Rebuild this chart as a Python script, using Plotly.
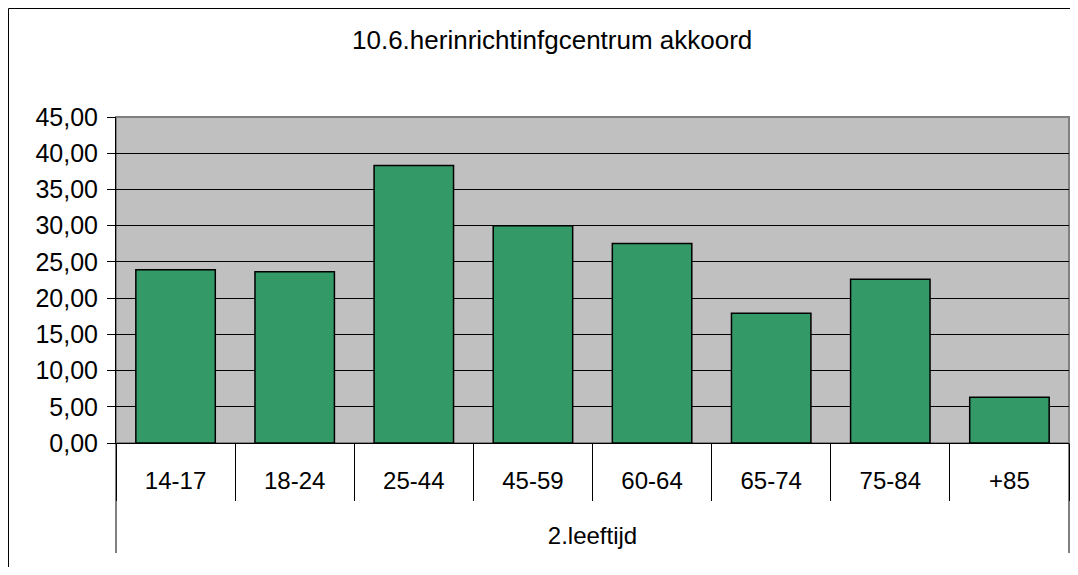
import plotly.graph_objects as go

categories = ["14-17", "18-24", "25-44", "45-59", "60-64", "65-74", "75-84", "+85"]
group_label = "2.leeftijd"
values = [23.9, 23.65, 38.3, 30.0, 27.55, 17.9, 22.6, 6.3]
title_text = "10.6.herinrichtinfgcentrum akkoord"
y_ticks = [0, 5, 10, 15, 20, 25, 30, 35, 40, 45]

# page body adds an 8px offset; work in figure coordinates
OFF = 8
W, H = 1078 - 2 * OFF, 575 - 2 * OFF
L, R, T, B = 116 - OFF, W - 1, 117 - OFF, 443 - OFF
PW, PH = R - L, B - T

fig = go.Figure()
fig.add_trace(go.Bar(
    x=categories,
    y=values,
    marker=dict(color="#339966", line=dict(color="#000000", width=1.5)),
    width=0.667,
))

font = dict(family="Liberation Sans, Arial, sans-serif", size=24, color="#000000")

fig.update_layout(
    width=W, height=H,
    margin=dict(l=L, r=W - R, t=T, b=H - B, pad=0),
    paper_bgcolor="#FFFFFF",
    plot_bgcolor="#C0C0C0",
    separators=",.",
    showlegend=False,
    font=font,
    annotations=[dict(
        text=title_text, xref="paper", yref="paper",
        x=(551.5 - OFF - L) / PW, y=(B - (40 - OFF)) / PH,
        xanchor="center", yanchor="middle", showarrow=False,
        font=dict(family="Liberation Sans, Arial, sans-serif", size=26, color="#000000"),
    )],
    shapes=[
        # chart border (top and left edges visible)
        dict(type="line", xref="paper", yref="paper",
             x0=(0.5 - L) / PW, x1=(W - L) / PW,
             y0=(B - 0.5) / PH, y1=(B - 0.5) / PH,
             line=dict(color="#000000", width=1)),
        dict(type="line", xref="paper", yref="paper",
             x0=(0.5 - L) / PW, x1=(0.5 - L) / PW,
             y0=(B - 0.5) / PH, y1=(B - H) / PH,
             line=dict(color="#000000", width=1)),
        # plot area border
        dict(type="rect", xref="paper", yref="paper", x0=0, x1=1, y0=0, y1=1,
             line=dict(color="#808080", width=2), fillcolor="rgba(0,0,0,0)", layer="below"),
        # outer group separators
        dict(type="line", xref="paper", yref="paper", x0=0, x1=0, y0=0, y1=-110 / PH,
             line=dict(color="#000000", width=1)),
        dict(type="line", xref="paper", yref="paper", x0=1, x1=1, y0=0, y1=-110 / PH,
             line=dict(color="#000000", width=1)),
    ],
)

fig.update_yaxes(
    range=[0, 45], tickvals=y_ticks, tickformat=".2f",
    showgrid=True, gridcolor="#000000", gridwidth=1,
    ticks="outside", ticklen=8, tickcolor="#000000", tickwidth=1,
    showline=True, linecolor="#000000", linewidth=1,
    zeroline=False, tickfont=dict(family="Liberation Sans, Arial, sans-serif", size=25, color="#000000"),
    ticklabelstandoff=4,
)
fig.update_xaxes(
    type="category",
    ticks="outside", ticklen=57, tickcolor="#000000", tickwidth=1,
    tickson="boundaries",
    showline=True, linecolor="#000000", linewidth=1,
    tickfont=font, showgrid=False, ticklabelstandoff=16,
    title=dict(text=group_label, font=font, standoff=34),
)

fig.write_html("out.html")
